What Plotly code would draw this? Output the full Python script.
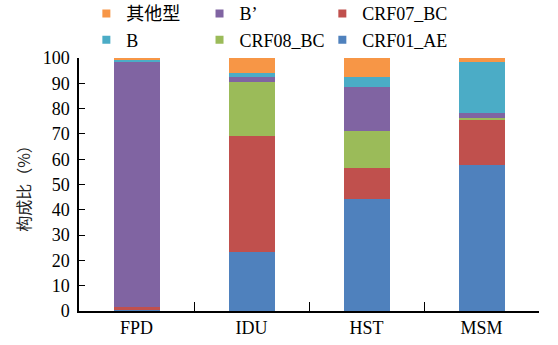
import plotly.graph_objects as go

categories = ["FPD", "IDU", "HST", "MSM"]
series_names = ["CRF01_AE", "CRF07_BC", "CRF08_BC", "B’", "B", "其他型"]
crf01_ae = [0.5, 23.5, 44.3, 57.8]
crf07_bc = [1.0, 45.5, 12.4, 18.0]
crf08_bc = [0.0, 21.5, 14.5, 0.5]
b_prime = [97.0, 2.0, 17.2, 1.9]
b = [1.0, 1.5, 3.9, 20.2]
other = [0.5, 6.0, 7.7, 1.6]
values = [crf01_ae, crf07_bc, crf08_bc, b_prime, b, other]
colors = ["#4F81BD", "#C0504D", "#9BBB59", "#8064A2", "#4BACC6", "#F79646"]
# legend column of each series (legend: col 1, legend2: col 2, legend3: col 3)
legend_ids = ["legend3", "legend3", "legend2", "legend2", "legend", "legend"]
legend_ranks = [2, 1, 2, 1, 2, 1]
y_ticks = [0, 10, 20, 30, 40, 50, 60, 70, 80, 90, 100]

FONT = "Liberation Serif, Noto Sans CJK SC, serif"

fig = go.Figure()
for name, vals, col in zip(series_names, values, colors):
    fig.add_trace(go.Bar(x=categories, y=vals, name=name, marker_color=col,
                         marker_line_width=0, width=0.4, showlegend=False,
                         legendgroup=name))
for name, col, lid, rk in zip(series_names, colors, legend_ids, legend_ranks):
    fig.add_trace(go.Scatter(x=[None], y=[None], mode="markers", name=name,
                             marker=dict(symbol="square", size=8, color=col),
                             legend=lid, legendrank=rk, legendgroup=name,
                             showlegend=True))

leg_common = dict(orientation="v", xanchor="left", yanchor="top", y=1.248,
                  traceorder="normal", bgcolor="rgba(0,0,0,0)", tracegroupgap=0,
                  font=dict(family=FONT, size=18, color="black"))
fig.update_layout(
    barmode="stack",
    width=558, height=345,
    margin=dict(l=79, r=19, t=58, b=34, autoexpand=False),
    plot_bgcolor="white", paper_bgcolor="white",
    font=dict(family=FONT, size=18, color="black"),
    showlegend=True,
    legend=dict(x=0.016, **leg_common),
    legend2=dict(x=0.262, **leg_common),
    legend3=dict(x=0.529, **leg_common),
)
fig.update_xaxes(type="category", range=[-0.5, 3.5], showline=True, linecolor="black",
                 linewidth=1.5, ticks="inside", tickson="boundaries", ticklen=9,
                 tickcolor="black", showgrid=False,
                 tickfont=dict(family=FONT, size=18))
fig.update_yaxes(range=[0, 100], tickvals=y_ticks, showline=True, linecolor="black",
                 linewidth=1.5, ticks="inside", ticklen=6, tickcolor="black",
                 showgrid=False, zeroline=False, ticklabelstandoff=4,
                 tickfont=dict(family=FONT, size=18),
                 title=dict(text="构成比（%）", font=dict(size=16,
                            family="Noto Sans CJK SC, sans-serif", color="#222222"), standoff=8))

fig.write_html("out.html", post_script="document.body.style.margin='0';",
               config={"displayModeBar": False})
